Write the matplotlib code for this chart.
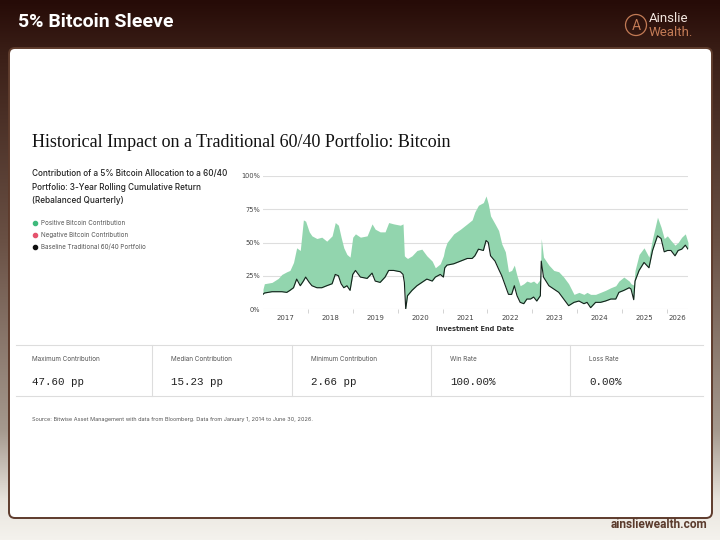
import matplotlib
matplotlib.use("Agg")
import matplotlib.pyplot as plt
import numpy as np
from matplotlib.colors import LinearSegmentedColormap
from matplotlib.patches import FancyBboxPatch, Circle

# end date of each 3-year window (decimal year)
years = [2017.0, 2017.03, 2017.2, 2017.34, 2017.42, 2017.53, 2017.6, 2017.68, 2017.75, 2017.83,
         2017.9, 2017.95, 2018.03, 2018.09, 2018.2, 2018.31, 2018.42, 2018.54, 2018.61, 2018.68,
         2018.74, 2018.8, 2018.87, 2018.94, 2019.0, 2019.06, 2019.17, 2019.32, 2019.43, 2019.5,
         2019.61, 2019.72, 2019.8, 2019.91, 2020.06, 2020.12, 2020.15, 2020.18, 2020.22, 2020.32,
         2020.43, 2020.54, 2020.65, 2020.77, 2020.84, 2020.95, 2021.02, 2021.05, 2021.1, 2021.25,
         2021.4, 2021.55, 2021.66, 2021.72, 2021.8, 2021.91, 2021.97, 2022.02, 2022.07, 2022.17,
         2022.25, 2022.32, 2022.4, 2022.47, 2022.54, 2022.6, 2022.66, 2022.73, 2022.81, 2022.88,
         2022.96, 2023.03, 2023.1, 2023.18, 2023.2, 2023.25, 2023.37, 2023.48, 2023.59, 2023.7,
         2023.81, 2023.93, 2024.04, 2024.15, 2024.22, 2024.3, 2024.41, 2024.52, 2024.63, 2024.75,
         2024.86, 2024.93, 2025.04, 2025.16, 2025.2, 2025.26, 2025.29, 2025.38, 2025.49, 2025.6,
         2025.68, 2025.79, 2025.87, 2025.94, 2026.01, 2026.09, 2026.18, 2026.25, 2026.33, 2026.41,
         2026.47]

# traditional 60/40 rolling return (%)
baseline = [11, 12, 13, 13, 13, 12.5, 14, 16, 22.5, 17.5,
            21, 24, 20, 17.5, 16, 16, 17.5, 19, 26, 25,
            19, 16, 17.5, 14, 26, 29, 24, 23, 27, 21,
            20, 24, 29, 29, 28, 26, 20, 0, 10, 14,
            17.5, 20, 22.5, 21, 24, 26, 24, 31, 33, 34,
            36, 38, 38, 40, 45, 44, 51.5, 50, 40, 36,
            30, 25, 17.5, 11, 11, 17.5, 10, 5, 4, 7.5,
            7.5, 9, 6, 10, 36, 24, 17.5, 15, 12.5, 7.5,
            2.5, 5, 6, 4, 5, 1, 5, 5, 6, 7.5,
            7.5, 12.5, 14, 16, 15, 7, 21, 29, 35, 31,
            44, 55, 53, 43, 44, 44, 40, 44, 45, 48,
            45]

# 60/40 with 5% bitcoin sleeve (%)
with_btc = [15, 19, 20, 23, 26, 28, 29, 35, 46, 44,
            67, 66, 58, 55, 53, 54, 51, 55, 65, 63,
            54, 46, 41, 39, 54, 56.5, 54, 55, 64, 60,
            58, 58, 65, 64, 63, 64, 40, 39, 38, 40,
            44, 45, 40, 36, 31, 34, 40, 45, 50, 56.5,
            60, 64, 67, 73, 78, 80, 85, 79, 70, 64,
            59, 49, 43, 28, 29, 33, 25, 17.5, 19, 21,
            20, 21, 19, 22.5, 53, 39, 33, 29, 28, 24,
            19, 11, 12.5, 11, 12.5, 11, 11, 12.5, 14, 16,
            17.5, 21, 24, 21, 19, 18, 29, 41, 46, 39,
            53, 69, 61.5, 53, 55, 51.5, 48, 50, 54, 56.5,
            50]

y_ticks = [0, 25, 50, 75, 100]
stat_labels = ["Maximum Contribution", "Median Contribution", "Minimum Contribution", "Win Rate", "Loss Rate"]
stat_values = ["47.60 pp", "15.23 pp", "2.66 pp", "100.00%", "0.00%"]
legend_labels = ["Positive Bitcoin Contribution", "Negative Bitcoin Contribution", "Baseline Traditional 60/40 Portfolio"]
legend_colors = ["#3fba7c", "#e5536d", "#111111"]

fig = plt.figure(figsize=(7.2, 5.4), dpi=100)

# background in pixel coords
bg = fig.add_axes([0, 0, 1, 1])
bg.set_xlim(0, 720)
bg.set_ylim(540, 0)
bg.axis("off")
cmap = LinearSegmentedColormap.from_list("bg", [(0, "#260b07"), (0.1, "#3b1f17"), (0.45, "#6a5145"),
                                                (0.8, "#a69a8f"), (0.93, "#e9e5de"), (1, "#f4f2ed")])
grad = np.linspace(0, 1, 256).reshape(-1, 1)
bg.imshow(grad, cmap=cmap, aspect="auto", extent=[0, 720, 540, 0], zorder=0)

panel = FancyBboxPatch((9, 48), 703, 470, boxstyle="round,pad=0,rounding_size=6",
                       facecolor="white", edgecolor="#5e3b2c", linewidth=1.4, zorder=1)
bg.add_patch(panel)

# header
bg.text(18, 22, "5% Bitcoin Sleeve", color="white", fontsize=14, fontweight="bold",
        family="Roboto", va="center", ha="left", zorder=2)
bg.add_patch(Circle((636, 25), 10.5, fill=False, edgecolor="#c27a55", linewidth=0.9, zorder=2))
bg.text(636, 26, "A", color="#c27a55", fontsize=10, ha="center", va="center", family="Roboto", zorder=2)
bg.text(649, 18, "Ainslie", color="#f2e6df", fontsize=9.5, ha="left", va="center", family="Roboto", zorder=2)
bg.text(649, 33, "Wealth.", color="#c27a55", fontsize=9.5, ha="left", va="center", family="Roboto", zorder=2)

# titles
bg.text(32, 142, "Historical Impact on a Traditional 60/40 Portfolio: Bitcoin", color="#111111",
        fontsize=13, family="Liberation Serif", ha="left", va="center", zorder=2)
bg.text(32, 187, "Contribution of a 5% Bitcoin Allocation to a 60/40\nPortfolio: 3-Year Rolling Cumulative Return\n(Rebalanced Quarterly)",
        color="#222222", fontsize=5.9, family="Inter", fontweight="medium", ha="left", va="center",
        linespacing=1.65, zorder=2)

for i, (lab, col) in enumerate(zip(legend_labels, legend_colors)):
    yy = 223 + 12 * i
    bg.scatter([35], [yy], s=9, color=col, zorder=2)
    bg.text(41, yy, lab, color="#555555", fontsize=4.5, family="Inter", ha="left", va="center", zorder=2)

# stats row
bg.plot([16, 703], [345, 345], color="#dddddd", lw=0.8, zorder=2)
bg.plot([16, 703], [396, 396], color="#dddddd", lw=0.8, zorder=2)
for i, (lab, val) in enumerate(zip(stat_labels, stat_values)):
    x0 = 32 + 139.3 * i
    if i > 0:
        bg.plot([x0 - 19, x0 - 19], [345, 396], color="#dddddd", lw=0.8, zorder=2)
    bg.text(x0, 359, lab, color="#555555", fontsize=4.6, family="Inter", ha="left", va="center", zorder=2)
    bg.text(x0, 382, val, color="#222222", fontsize=7.8, family="Liberation Mono", ha="left", va="center", zorder=2)

bg.text(32, 420, "Source: Bitwise Asset Management with data from Bloomberg. Data from January 1, 2014 to June 30, 2026.",
        color="#555555", fontsize=4.0, family="Inter", ha="left", va="center", zorder=2)
bg.text(707, 524, "ainsliewealth.com", color="#5a3a2c", fontsize=8.6, fontweight="bold",
        family="Roboto", ha="right", va="center", zorder=2)

# chart
ax = fig.add_axes([263 / 720, 1 - 309 / 540, 425 / 720, 133 / 540])
ax.set_facecolor("none")
ax.fill_between(years, baseline, with_btc, color="#92d5ae", linewidth=0, zorder=2)
ax.plot(years, baseline, color="#13201a", linewidth=0.8, zorder=3)
ax.set_xlim(years[0], years[-1])
ax.set_ylim(0, 100)
for s in ax.spines.values():
    s.set_visible(False)
ax.set_yticks(y_ticks)
ax.set_yticklabels([f"{t}%" for t in y_ticks])
ax.grid(axis="y", color="#dedede", linewidth=0.8, zorder=0)
ax.tick_params(axis="y", length=0, pad=2, labelsize=4.8, labelcolor="#444444")

start, end = years[0], years[-1]
bounds = [y for y in range(2018, 2027) if start < y < end]
ax.set_xticks(bounds)
ax.set_xticklabels([])
ax.tick_params(axis="x", which="major", length=3, width=0.6, color="#cccccc", direction="out")
mids, labs = [], []
for y in range(int(start), int(end) + 1):
    a, b = max(y, start), min(y + 1, end)
    mids.append((a + b) / 2)
    labs.append(str(y))
ax.set_xticks(mids, minor=True)
ax.set_xticklabels(labs, minor=True)
ax.tick_params(axis="x", which="minor", length=0, pad=4, labelsize=5, labelcolor="#444444")
ax.set_xlabel("Investment End Date", fontsize=4.8, fontweight="bold", color="#333333", labelpad=4)

fig.savefig("out.png", dpi=100)
